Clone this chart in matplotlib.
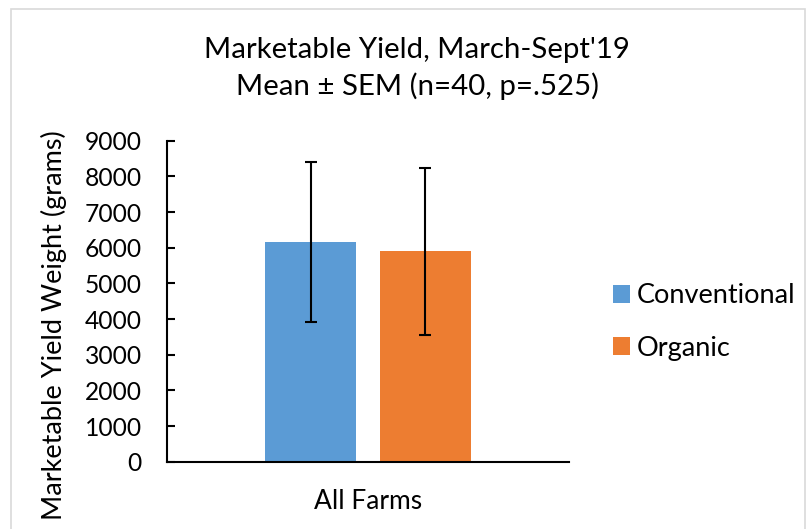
import matplotlib
matplotlib.use("Agg")
import matplotlib.pyplot as plt
from matplotlib.patches import Rectangle, Patch

plt.rcParams['font.family'] = ['Lato', 'DejaVu Sans']

categories = ["All Farms"]
series_names = ["Conventional", "Organic"]
means = [6160, 5905]
sems = [2255, 2340]
colors = ["#5B9BD5", "#ED7D31"]
yticks = [0, 1000, 2000, 3000, 4000, 5000, 6000, 7000, 8000, 9000]

W, H = 808, 529
fig = plt.figure(figsize=(W / 100, H / 100), dpi=100)
ax = fig.add_axes([167 / W, 1 - 461.7 / H, (569 - 167) / W, (461.7 - 140.7) / H])

bw = 0.226
offsets = [-0.1425, 0.1425]
for i, (name, m, s, c) in enumerate(zip(series_names, means, sems, colors)):
    ax.bar(0 + offsets[i], m, width=bw, color=c, label=name, zorder=2)
    ax.errorbar(0 + offsets[i], m, yerr=s, fmt='none', ecolor='black',
                elinewidth=1.5, capsize=4, capthick=1.5, zorder=3)

ax.set_xlim(-0.5, 0.5)
ax.set_ylim(0, 9000)
ax.set_yticks(yticks)
ax.set_yticklabels([str(t) for t in yticks], fontsize=17.7)
ax.set_xticks([0])
ax.set_xticklabels(categories, fontsize=19)
ax.tick_params(axis='x', length=0, pad=20)
ax.tick_params(axis='y', direction='in', length=6, width=1.5, pad=18)
for sp in ['top', 'right']:
    ax.spines[sp].set_visible(False)
for sp in ['left', 'bottom']:
    ax.spines[sp].set_linewidth(1.5)
    ax.spines[sp].set_color('black')

ax.set_ylabel("Marketable Yield Weight (grams)", fontsize=19.5)
ax.yaxis.set_label_coords(-(167 - 67) / 402, 0.424)

fig.text(417 / W, 1 - 50 / H, "Marketable Yield, March-Sept'19", ha='center', va='center', fontsize=21.2)
fig.text(417 / W, 1 - 86 / H, "Mean \u00b1 SEM (n=40, p=.525)", ha='center', va='center', fontsize=21.2)

handles = [Patch(facecolor=c, edgecolor='none') for c in colors]
fig.legend(handles, series_names, loc='center left', bbox_to_anchor=(613 / W, 1 - 322 / H),
           frameon=False, fontsize=19.5, handlelength=0.63, handleheight=0.63,
           handletextpad=0.26, labelspacing=1.0, borderpad=0, borderaxespad=0)

fig.patches.append(Rectangle((11 / W, -0.05), (805 - 11) / W, 1 - 9 / H + 0.05,
                             transform=fig.transFigure, fill=False,
                             edgecolor='#D9D9D9', linewidth=1.2))

fig.savefig("out.png", dpi=100)
